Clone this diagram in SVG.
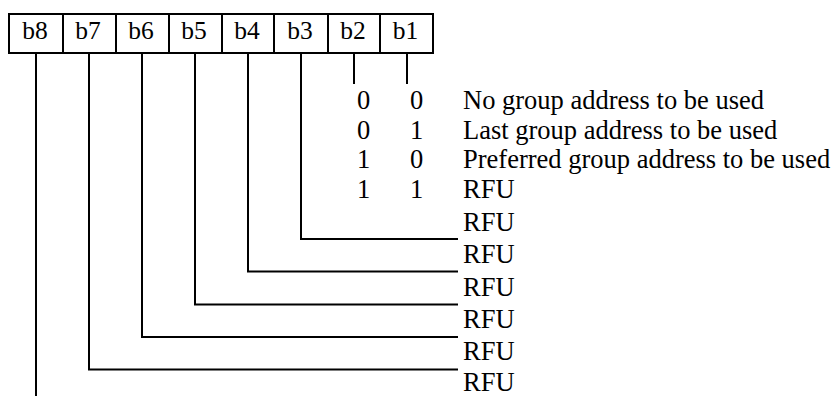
<svg xmlns="http://www.w3.org/2000/svg" width="837" height="396" viewBox="0 0 837 396">
<style>
  text { font-family: 'Liberation Serif', 'Times New Roman', Times, serif; font-size: 26.5px; fill: #000; }
  .lbl { text-anchor: middle; font-size: 25.5px; }
  .ln { fill: none; stroke: #000; stroke-width: 2; }
</style>
<rect x="0" y="0" width="837" height="396" fill="#fff"/>
<g id="register">
  <rect class="ln" x="9" y="14" width="424" height="39"/>
  <line class="ln" x1="63" y1="14" x2="63" y2="53"/>
  <line class="ln" x1="116" y1="14" x2="116" y2="53"/>
  <line class="ln" x1="169" y1="14" x2="169" y2="53"/>
  <line class="ln" x1="222" y1="14" x2="222" y2="53"/>
  <line class="ln" x1="274" y1="14" x2="274" y2="53"/>
  <line class="ln" x1="328" y1="14" x2="328" y2="53"/>
  <line class="ln" x1="380" y1="14" x2="380" y2="53"/>
  <text class="lbl" x="35" y="39">b8</text>
  <text class="lbl" x="88" y="39">b7</text>
  <text class="lbl" x="141" y="39">b6</text>
  <text class="lbl" x="194" y="39">b5</text>
  <text class="lbl" x="247" y="39">b4</text>
  <text class="lbl" x="300" y="39">b3</text>
  <text class="lbl" x="353" y="39">b2</text>
  <text class="lbl" x="405.5" y="39">b1</text>
</g>
<g id="connectors">
  <polyline class="ln" points="36,53 36,396"/>
  <polyline class="ln" points="89,53 89,369.5 458,369.5"/>
  <polyline class="ln" points="142,53 142,337 458,337"/>
  <polyline class="ln" points="195,53 195,304.5 458,304.5"/>
  <polyline class="ln" points="248,53 248,271.5 458,271.5"/>
  <polyline class="ln" points="301,53 301,239 458,239"/>
  <polyline class="ln" points="354,53 354,84"/>
  <polyline class="ln" points="407,53 407,84"/>
</g>
<g id="b2b1-values">
  <text x="357" y="109">0</text><text x="410" y="109">0</text><text x="463" y="109">No group address to be used</text>
  <text x="357" y="138.5">0</text><text x="410" y="138.5">1</text><text x="463" y="138.5">Last group address to be used</text>
  <text x="357" y="168">1</text><text x="410" y="168">0</text><text x="463" y="168">Preferred group address to be used</text>
  <text x="357" y="198">1</text><text x="410" y="198">1</text><text x="463" y="198">RFU</text>
</g>
<g id="rfu-labels">
  <text x="463" y="231">RFU</text>
  <text x="463" y="263">RFU</text>
  <text x="463" y="295.5">RFU</text>
  <text x="463" y="328">RFU</text>
  <text x="463" y="360">RFU</text>
  <text x="463" y="391">RFU</text>
</g>
</svg>
